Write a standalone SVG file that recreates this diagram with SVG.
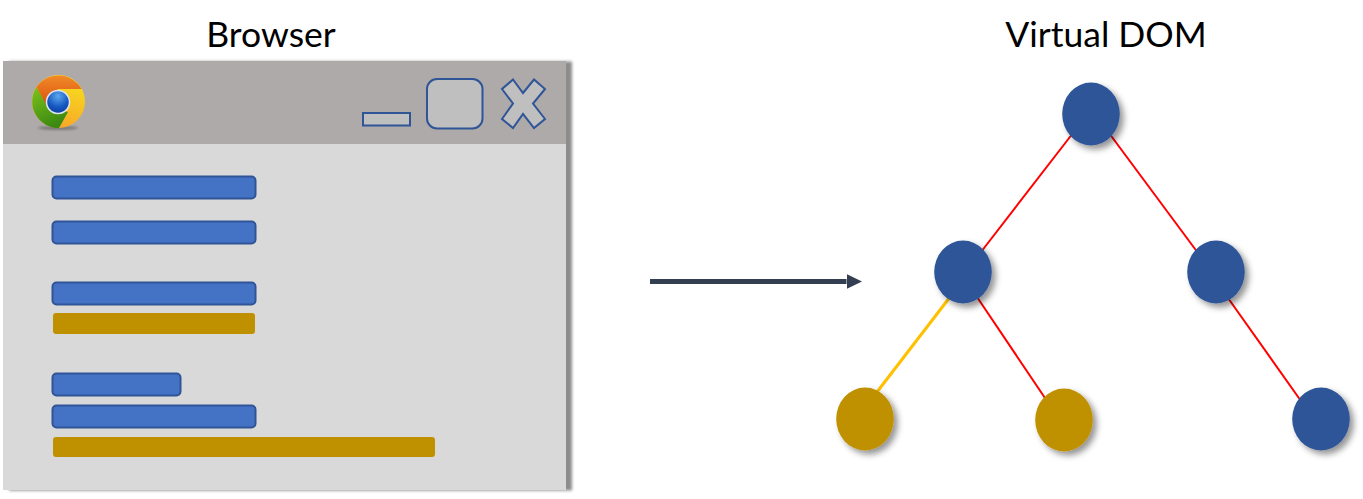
<svg xmlns="http://www.w3.org/2000/svg" width="1363" height="499" viewBox="0 0 1363 499">
<style>
text{font-family:"Lato","Open Sans","Liberation Sans",sans-serif;font-size:35.500px;fill:#000;text-anchor:middle}
.bar{fill:#4472c4;stroke:#2f5597;stroke-width:2}
.gbar{fill:#bf9000}
.btn{fill:#bfbfbf;stroke:#2f5597;stroke-width:2}
.red{stroke:#f00;stroke-width:2;fill:none}
.amb{stroke:#ffc000;stroke-width:3;fill:none}
.blue{fill:#2f5597;filter:url(#sh)}
.gold{fill:#bf9000;filter:url(#sh)}
</style>
<defs>
<filter id="sh" x="-30%" y="-30%" width="170%" height="170%"><feDropShadow dx="4" dy="4" stdDeviation="3" flood-color="#000" flood-opacity="0.42"/></filter>
<filter id="wsh" x="-3%" y="-3%" width="106%" height="106%"><feDropShadow dx="6" dy="0.500" stdDeviation="1.800" flood-color="#000" flood-opacity="0.45"/></filter>
<marker id="ah" markerUnits="userSpaceOnUse" markerWidth="17" markerHeight="16" refX="0" refY="8" orient="auto"><path d="M0 0.500L15.500 8L0 15.500Z" fill="#333f50"/></marker>
<linearGradient id="gO" x1="0" y1="0" x2="0" y2="1"><stop offset="0" stop-color="#f28a28"/><stop offset="1" stop-color="#d9500f"/></linearGradient>
<linearGradient id="gG" x1="0" y1="0" x2="0.4" y2="1"><stop offset="0" stop-color="#7fc31c"/><stop offset="1" stop-color="#3c8a12"/></linearGradient>
<linearGradient id="gY" x1="0.5" y1="0" x2="0.3" y2="1"><stop offset="0" stop-color="#f7e01c"/><stop offset="1" stop-color="#f7a52a"/></linearGradient>
<radialGradient id="gB" cx="0.5" cy="0.25" r="0.8"><stop offset="0" stop-color="#5aa8ee"/><stop offset="0.6" stop-color="#1556c0"/><stop offset="1" stop-color="#0a3c9a"/></radialGradient>
<filter id="soft" x="-20%" y="-100%" width="140%" height="300%"><feGaussianBlur stdDeviation="1.200"/></filter>
</defs>
<text x="271" y="47">Browser</text>
<text x="1106" y="47">Virtual DOM</text>
<g id="browser">
<rect x="3" y="61" width="563" height="429" fill="#d9d9d9" filter="url(#wsh)"/>
<rect x="3" y="61" width="563" height="83" fill="#aeaaaa"/>
</g>
<g id="chrome-icon">
<ellipse cx="58" cy="128" rx="20" ry="2" fill="#555" opacity="0.55" filter="url(#soft)"/>
<circle cx="58.500" cy="101.500" r="26.500" fill="url(#gY)"/>
<path d="M36.500 87A26.500 26.500 0 0 0 59 128L68 112L48 106Z" fill="url(#gG)"/>
<path d="M36.500 87A26.500 26.500 0 0 1 81.500 89L58 89L47 106Z" fill="url(#gO)"/>
<circle cx="58" cy="102" r="11.500" fill="url(#gB)" stroke="#dfe6f2" stroke-width="1.500"/>
</g>
<g id="window-buttons">
<rect class="btn" x="363" y="113" width="47" height="12.500"/>
<rect class="btn" x="427" y="79" width="55.500" height="49.500" rx="10"/>
<path class="btn" d="M513 79.500L523 93L534 79.500L545 89L533 103.500L545 119L534 128L523 114L513 128L502 119L513 103.500L502 89Z"/>
</g>
<g id="content-bars">
<rect class="bar" x="52.500" y="176.500" width="203" height="22" rx="4"/>
<rect class="bar" x="52.500" y="221.500" width="203" height="22" rx="4"/>
<rect class="bar" x="52.500" y="282.500" width="203" height="22" rx="4"/>
<rect class="gbar" x="53" y="313" width="202" height="21" rx="3"/>
<rect class="bar" x="52.500" y="373.500" width="128" height="22" rx="4"/>
<rect class="bar" x="52.500" y="405.500" width="203" height="22" rx="4"/>
<rect class="gbar" x="53" y="437" width="382" height="20" rx="3"/>
</g>
<g id="connectors">
<line x1="650" y1="281.500" x2="846.500" y2="281.500" stroke="#333f50" stroke-width="5" marker-end="url(#ah)"/>
<line class="red" x1="1073" y1="133" x2="981" y2="252"/>
<line class="red" x1="1109" y1="133" x2="1198" y2="253"/>
<line class="amb" x1="950" y1="297" x2="877" y2="392"/>
<line class="red" x1="977" y1="297" x2="1045" y2="398"/>
<line class="red" x1="1228" y1="298" x2="1301" y2="401"/>
</g>
<g id="node-root"><ellipse class="blue" cx="1091" cy="114" rx="28.800" ry="31.500"/></g>
<g id="node-left"><ellipse class="blue" cx="963" cy="272" rx="28.800" ry="31.500"/></g>
<g id="node-right"><ellipse class="blue" cx="1216" cy="272" rx="28.800" ry="31.500"/></g>
<g id="node-ll"><ellipse class="gold" cx="865" cy="419" rx="28.800" ry="31.500"/></g>
<g id="node-lr"><ellipse class="gold" cx="1064" cy="420" rx="28.800" ry="31.500"/></g>
<g id="node-rr"><ellipse class="blue" cx="1321" cy="419" rx="28.800" ry="31.500"/></g>
</svg>
